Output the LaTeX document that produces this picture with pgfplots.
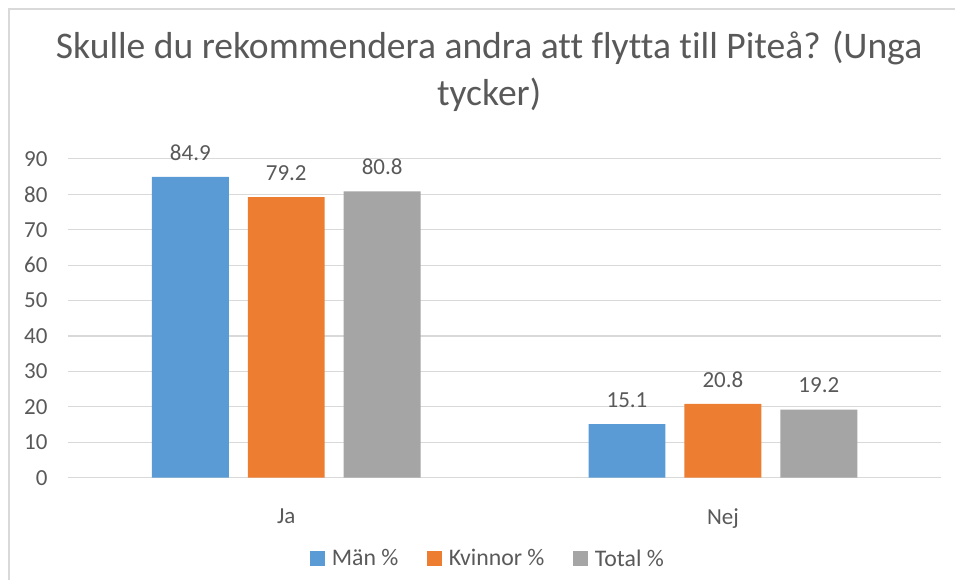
\documentclass[border=0pt]{standalone}
\usepackage{pgfplots}
\pgfplotsset{compat=1.18}
\usepackage{fontspec}
\setmainfont{Carlito}[Ligatures=NoCommon]
\definecolor{cblue}{HTML}{5B9BD5}
\definecolor{corange}{HTML}{ED7D31}
\definecolor{cgray}{HTML}{A5A5A5}
\definecolor{txt}{HTML}{595959}
\definecolor{gridc}{HTML}{D9D9D9}
\begin{document}
\begin{tikzpicture}[x=1pt,y=1pt]
\path (0,0) rectangle (956,580);
\draw[gridc,line width=1.5pt] (9,0) -- (9,571) -- (956,571);
\node[text=txt,font=\fontsize{37.6}{47}\selectfont,align=center] at (489.5,508.5) {Skulle du rekommendera andra att flytta till Piteå? (Unga\\tycker)};
\begin{axis}[
  at={(68pt,102pt)}, anchor=south west,
  scale only axis, width=874pt, height=319pt,
  ybar=19pt, bar width=77pt,
  xmin=-0.5, xmax=1.5, ymin=0, ymax=90,
  xtick={0,1}, xticklabels={Ja,Nej},
  ytick={0,10,...,90},
  axis line style={draw=none},
  major tick length=0pt,
  ymajorgrids, xmajorgrids=false,
  grid style={draw=gridc,line width=1.2pt},
  tick label style={text=txt,font=\fontsize{23}{28}\selectfont},
  /pgf/number format/assume math mode=true,
  xticklabel style={yshift=-28pt},
  yticklabel style={xshift=-17pt},
  nodes near coords={\pgfmathprintnumber[fixed,fixed zerofill,precision=1,assume math mode=true]{\pgfplotspointmeta}},
  nodes near coords style={text=txt,font=\fontsize{23}{28}\selectfont,yshift=13pt},
  legend columns=3,
  legend style={draw=none,fill=none,at={(420.5pt,-81pt)},anchor=center,
     font=\fontsize{23.8}{28}\selectfont,text=txt,
     /tikz/every even column/.append style={column sep=27pt}},
  legend image code/.code={\fill[#1] (0pt,-7.5pt) rectangle (15pt,7.5pt);\path (19.5pt,0pt);},
  legend cell align=left,
]
\addplot[fill=cblue,draw=none] coordinates {(0,84.9) (1,15.1)};
\addplot[fill=corange,draw=none] coordinates {(0,79.2) (1,20.8)};
\addplot[fill=cgray,draw=none] coordinates {(0,80.8) (1,19.2)};
\legend{Män \%,Kvinnor \%,Total \%}
\end{axis}
\end{tikzpicture}
\end{document}
